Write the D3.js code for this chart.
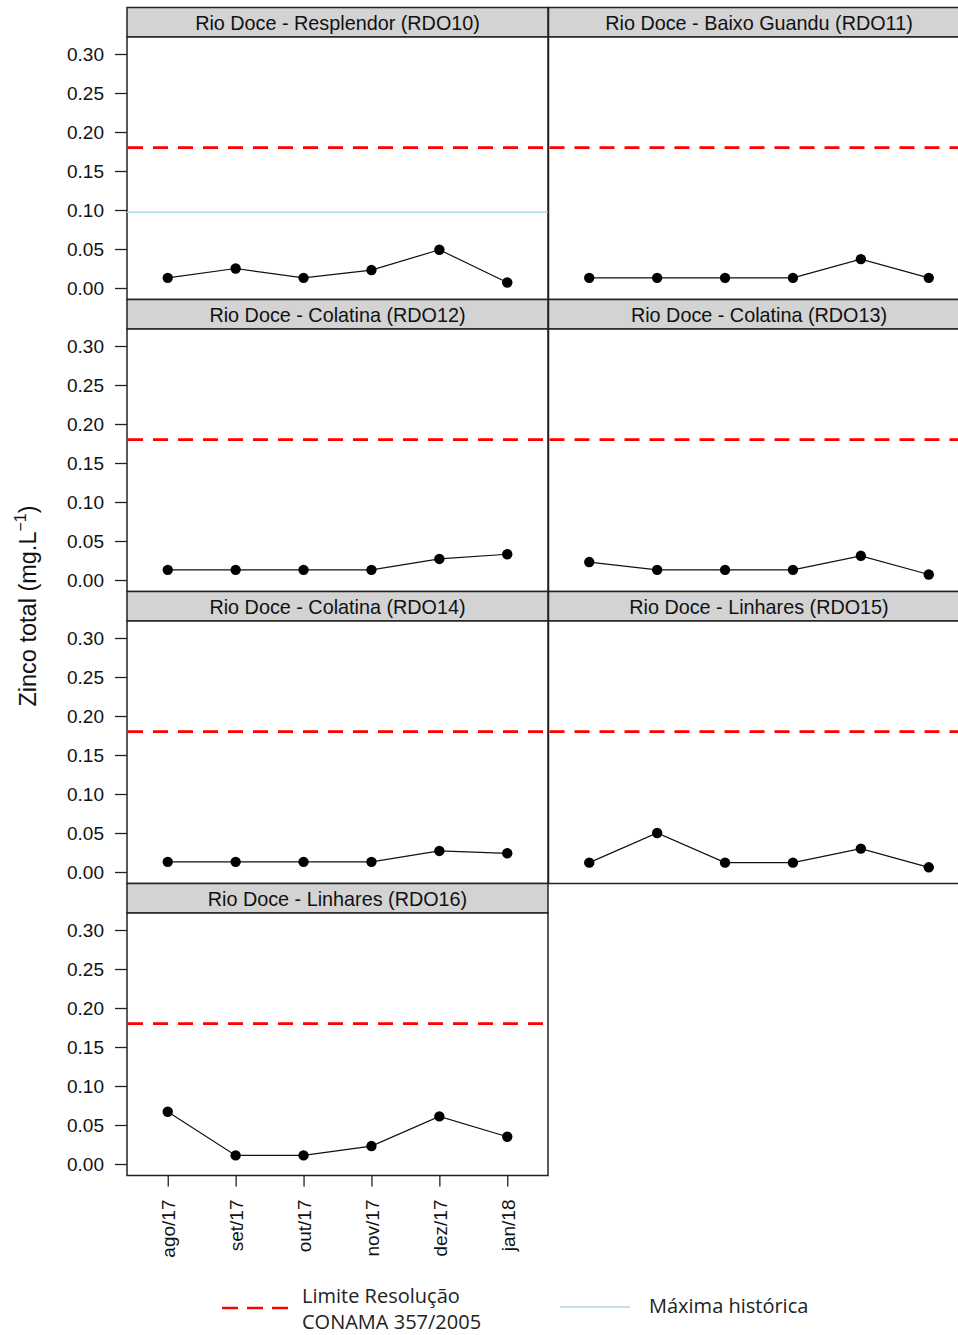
<!DOCTYPE html>
<html>
<head>
<meta charset="utf-8">
<script src="https://cdn.jsdelivr.net/npm/d3@7"></script>
<style>
  html, body { margin: 0; padding: 0; background: #fff; }
  svg { display: block; }
</style>
</head>
<body>
<svg id="chart" width="958" height="1335"></svg>
<script>
// ---------------- DATA ----------------
const months = ["ago/17", "set/17", "out/17", "nov/17", "dez/17", "jan/18"];
const stations = [
  "Rio Doce - Resplendor (RDO10)",
  "Rio Doce - Baixo Guandu (RDO11)",
  "Rio Doce - Colatina (RDO12)",
  "Rio Doce - Colatina (RDO13)",
  "Rio Doce - Colatina (RDO14)",
  "Rio Doce - Linhares (RDO15)",
  "Rio Doce - Linhares (RDO16)"
];
const rdo10 = [0.013, 0.025, 0.013, 0.023, 0.049, 0.007];
const rdo11 = [0.013, 0.013, 0.013, 0.013, 0.037, 0.013];
const rdo12 = [0.013, 0.013, 0.013, 0.013, 0.027, 0.033];
const rdo13 = [0.023, 0.013, 0.013, 0.013, 0.031, 0.007];
const rdo14 = [0.013, 0.013, 0.013, 0.013, 0.027, 0.024];
const rdo15 = [0.012, 0.050, 0.012, 0.012, 0.030, 0.006];
const rdo16 = [0.067, 0.011, 0.011, 0.023, 0.061, 0.035];
const seriesValues = [rdo10, rdo11, rdo12, rdo13, rdo14, rdo15, rdo16];
const limiteConama = 0.18;
const maximaHistorica = [0.097, null, null, null, null, null, null];
const yTicks = [0.00, 0.05, 0.10, 0.15, 0.20, 0.25, 0.30];
const yTitle = "Zinco total (mg.L";
const legendLabels = [["Limite Resolução", "CONAMA 357/2005"], ["Máxima histórica"]];

// ---------------- LAYOUT ----------------
const svg = d3.select("#chart");
const colX = [127, 548.5];
const panelW = 421;
const rowTop0 = 7.5, rowPitch = 292, stripH = 29.5, plotH = 262.5;
const font = "'Liberation Sans', Arial, sans-serif";

const x = d3.scalePoint().domain(months).range([0, panelW]).padding(0.6);
const y = d3.scaleLinear().domain([-0.01474, 0.3218]).range([plotH, 0]);

const defs = svg.append("defs");

stations.forEach((name, i) => {
  const col = i % 2, row = Math.floor(i / 2);
  const left = colX[col];
  const top = rowTop0 + row * rowPitch;
  const g = svg.append("g").attr("transform", `translate(${left},${top})`);

  // strip
  g.append("rect").attr("x", 0).attr("y", 0).attr("width", panelW).attr("height", stripH)
    .attr("fill", "#d3d3d3").attr("stroke", "#222").attr("stroke-width", 1.5);
  g.append("text").attr("x", panelW / 2).attr("y", stripH / 2 + 1)
    .attr("dy", "0.36em").attr("text-anchor", "middle")
    .attr("font-family", font).attr("font-size", 19.8).attr("fill", "#111")
    .text(name);

  const p = g.append("g").attr("transform", `translate(0,${stripH})`);
  const clipId = "clip" + i;
  defs.append("clipPath").attr("id", clipId).append("rect")
    .attr("x", 0).attr("y", 0).attr("width", panelW).attr("height", plotH);

  p.append("rect").attr("width", panelW).attr("height", plotH)
    .attr("fill", "#fff").attr("stroke", "#222").attr("stroke-width", 1.5);

  const inner = p.append("g").attr("clip-path", `url(#${clipId})`);

  // reference lines
  if (maximaHistorica[i] != null) {
    inner.append("line").attr("x1", 0).attr("x2", panelW)
      .attr("y1", y(maximaHistorica[i])).attr("y2", y(maximaHistorica[i]))
      .attr("stroke", "#add8e6").attr("stroke-width", 1.5);
  }
  inner.append("line").attr("x1", 1).attr("x2", panelW)
    .attr("y1", y(limiteConama)).attr("y2", y(limiteConama))
    .attr("stroke", "#ff0000").attr("stroke-width", 2.6)
    .attr("stroke-dasharray", "15,10");

  const vals = seriesValues[i];
  const line = d3.line().x((d, k) => x(months[k])).y(d => y(d));
  inner.append("path").datum(vals).attr("d", line)
    .attr("fill", "none").attr("stroke", "#111").attr("stroke-width", 1.2);
  inner.selectAll("circle").data(vals).join("circle")
    .attr("cx", (d, k) => x(months[k])).attr("cy", d => y(d)).attr("r", 5.2)
    .attr("fill", "#000");

  // y axis on left column
  if (col === 0) {
    const ax = p.append("g").call(d3.axisLeft(y).tickValues(yTicks).tickSize(12).tickPadding(11)
      .tickFormat(d3.format(".2f")));
    ax.select(".domain").remove();
    ax.selectAll("line").attr("stroke", "#222").attr("stroke-width", 1.3);
    ax.selectAll("text").attr("font-family", font).attr("font-size", 19).attr("fill", "#111");
  }
  // x axis on last panel
  if (i === stations.length - 1) {
    const ax = p.append("g").attr("transform", `translate(0,${plotH})`)
      .call(d3.axisBottom(x).tickSize(11).tickPadding(0));
    ax.select(".domain").remove();
    ax.selectAll("line").attr("stroke", "#222").attr("stroke-width", 1.3);
    ax.selectAll("text").attr("font-family", font).attr("font-size", 19).attr("fill", "#111")
      .attr("text-anchor", "end").attr("transform", "translate(0,24) rotate(-90)")
      .attr("x", 0).attr("y", 0).attr("dy", "0.36em");
  }
});

// y-axis title
const yt = svg.append("text").attr("transform", "translate(36,606) rotate(-90)")
  .attr("text-anchor", "middle").attr("font-family", font).attr("font-size", 23.5).attr("fill", "#111");
yt.append("tspan").text(yTitle);
yt.append("tspan").attr("dy", -10).attr("font-size", 16).text("\u22121");
yt.append("tspan").attr("dy", 10).text(")");

// legend
const lf = "'Open Sans', 'Noto Sans', sans-serif";
svg.append("line").attr("x1", 222).attr("x2", 288).attr("y1", 1308).attr("y2", 1308)
  .attr("stroke", "#ff0000").attr("stroke-width", 2.6).attr("stroke-dasharray", "16,9");
svg.append("text").attr("x", 302).attr("y", 1303).attr("font-family", lf).attr("font-size", 20)
  .attr("fill", "#222").text(legendLabels[0][0]);
svg.append("text").attr("x", 302).attr("y", 1329).attr("font-family", lf).attr("font-size", 20)
  .attr("fill", "#222").text(legendLabels[0][1]);
svg.append("line").attr("x1", 560).attr("x2", 630).attr("y1", 1307).attr("y2", 1307)
  .attr("stroke", "#add8e6").attr("stroke-width", 1.5);
svg.append("text").attr("x", 649).attr("y", 1313).attr("font-family", lf).attr("font-size", 20)
  .attr("fill", "#222").text(legendLabels[1][0]);
</script>
</body>
</html>
